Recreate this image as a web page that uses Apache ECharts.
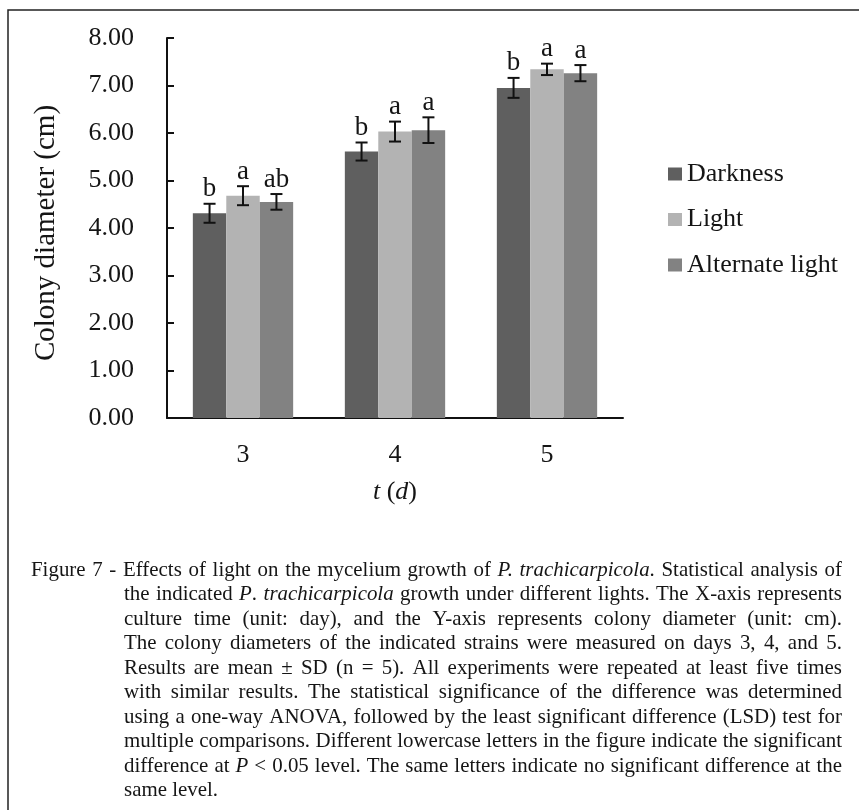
<!DOCTYPE html>
<html><head><meta charset="utf-8">
<script src="https://cdn.jsdelivr.net/npm/echarts@6/dist/echarts.min.js"></script>
<style>html,body{margin:0;padding:0;background:#fff}#c{width:859px;height:810px}</style>
</head><body><div id="c"></div>
<script>
// ---------- data ----------
const categories = ['3', '4', '5'];
const seriesNames = ['Darkness', 'Light', 'Alternate light'];
const darkness = [4.31, 5.61, 6.95];
const light = [4.68, 6.03, 7.34];
const alternate = [4.55, 6.06, 7.26];
const darknessSD = [0.20, 0.19, 0.21];
const lightSD = [0.20, 0.21, 0.12];
const alternateSD = [0.165, 0.27, 0.17];
const darknessSig = ['b', 'b', 'b'];
const lightSig = ['a', 'a', 'a'];
const alternateSig = ['ab', 'a', 'a'];
const yMin = 0, yMax = 8, yStep = 1;
const colors = ['#5f5f5f', '#b3b3b3', '#828282'];
const captionLines = [
  'Figure 7 - Effects of light on the mycelium growth of *P. trachicarpicola*. Statistical analysis of',
  'the indicated *P*. *trachicarpicola* growth under different lights. The X-axis represents',
  'culture time (unit: day), and the Y-axis represents colony diameter (unit: cm).',
  'The colony diameters of the indicated strains were measured on days 3, 4, and 5.',
  'Results are mean \u00b1 SD (n = 5). All experiments were repeated at least five times',
  'with similar results. The statistical significance of the difference was determined',
  'using a one-way ANOVA, followed by the least significant difference (LSD) test for',
  'multiple comparisons. Different lowercase letters in the figure indicate the significant',
  'difference at *P* < 0.05 level. The same letters indicate no significant difference at the',
  'same level.'
];

// ---------- styling ----------
const FONT = 'Liberation Serif';
const TXT = '#151515';
const gapRatio = 0.34;

const values = [darkness, light, alternate];
const sds = [darknessSD, lightSD, alternateSD];
const sigs = [darknessSig, lightSig, alternateSig];

function errSeries(k) {
  return {
    type: 'custom',
    z: 10,
    silent: true,
    data: values[k].map((v, i) => [i, v, sds[k][i]]),
    encode: { x: 0, y: 1 },
    renderItem(params, api) {
      const i = api.value(0), v = api.value(1), sd = api.value(2);
      const band = api.size([1, 0])[0];
      const barW = band * (1 - gapRatio) / 3;
      const cx = api.coord([i, v])[0] + (k - 1) * barW;
      const yT = api.coord([i, v + sd])[1];
      const yB = api.coord([i, v - sd])[1];
      const cap = 6;
      const ls = { stroke: '#111', lineWidth: 2 };
      return {
        type: 'group',
        children: [
          { type: 'line', shape: { x1: cx, y1: yT, x2: cx, y2: yB }, style: ls },
          { type: 'line', shape: { x1: cx - cap, y1: yT, x2: cx + cap, y2: yT }, style: ls },
          { type: 'line', shape: { x1: cx - cap, y1: yB, x2: cx + cap, y2: yB }, style: ls },
          { type: 'text', style: { text: sigs[k][params.dataIndex], x: cx, y: yT - 1,
              align: 'center', verticalAlign: 'bottom', fontSize: 27, fontFamily: FONT, fill: TXT } }
        ]
      };
    }
  };
}

// caption with justified lines
const capFont = 22, capScale = 0.95, capLeft0 = 31, capLeft = 124, capRight = 842, capTop = 570, capLine = 24.5;
const ctx = document.createElement('canvas').getContext('2d');
function measure(t, it) { ctx.font = (it ? 'italic ' : '') + capFont + 'px ' + FONT; return ctx.measureText(t).width; }
const capEls = [];
let italic = false;
captionLines.forEach((line, li) => {
  const toks = line.split(' ').map(tok => {
    const segs = []; let cur = '';
    for (const ch of tok) {
      if (ch === '*') { if (cur) segs.push({ t: cur, it: italic }); cur = ''; italic = !italic; }
      else cur += ch;
    }
    if (cur) segs.push({ t: cur, it: italic });
    return { segs, w: segs.reduce((a, s) => a + measure(s.t, s.it), 0) };
  });
  const x0 = li === 0 ? capLeft0 : capLeft;
  const last = li === captionLines.length - 1;
  const spaceW = measure(' ', false);
  const natTotal = toks.reduce((a, t) => a + t.w, 0);
  let s = capScale;
  const minNeeded = (natTotal + (toks.length - 1) * spaceW * 0.75) * s;
  if (!last && minNeeded > capRight - x0) s = s * (capRight - x0) / minNeeded;
  const total = natTotal * s;
  const gap = last ? spaceW * s : (capRight - x0 - total) / (toks.length - 1);
  let x = x0;
  const y = capTop + li * capLine;
  toks.forEach(t => {
    capEls.push({
      type: 'text', x: x, y: y, scaleX: s, silent: true,
      style: {
        text: t.segs.map(sg => (sg.it ? '{i|' : '{n|') + sg.t + '}').join(''),
        x: 0, y: 0, verticalAlign: 'middle', fontSize: capFont, fontFamily: FONT, fill: TXT,
        rich: {
          i: { fontStyle: 'italic', fontSize: capFont, fontFamily: FONT, fill: TXT },
          n: { fontSize: capFont, fontFamily: FONT, fill: TXT }
        }
      }
    });
    x += t.w * s + gap;
  });
});

const chart = echarts.init(document.getElementById('c'), null, { renderer: 'canvas' });
chart.setOption({
  animation: false,
  backgroundColor: '#fff',
  grid: { left: 167, right: 236, top: 38, bottom: 392, containLabel: false },
  legend: {
    orient: 'vertical', left: 663, top: 156, itemWidth: 14, itemHeight: 13, itemGap: 19.5,
    icon: 'rect', data: seriesNames,
    textStyle: { fontSize: 26, fontFamily: FONT, color: TXT }
  },
  xAxis: {
    type: 'category', data: categories,
    axisLine: { lineStyle: { color: '#111', width: 2 } },
    axisTick: { inside: true, length: 7, lineStyle: { color: '#111', width: 2 } },
    axisLabel: { fontSize: 26, fontFamily: FONT, color: TXT, margin: 24 },
    name: '{i|t} ({i|d})', nameLocation: 'middle', nameGap: 61,
    nameTextStyle: { fontSize: 26, fontFamily: FONT, color: TXT,
      rich: { i: { fontStyle: 'italic', fontSize: 26, fontFamily: FONT, color: TXT } } }
  },
  yAxis: {
    type: 'value', min: yMin, max: yMax, interval: yStep,
    splitLine: { show: false },
    axisLine: { show: true, lineStyle: { color: '#111', width: 2 } },
    axisTick: { show: true, inside: true, length: 7, lineStyle: { color: '#111', width: 2 } },
    axisLabel: { fontSize: 26, fontFamily: FONT, color: TXT, margin: 33, formatter: v => v.toFixed(2) },
    name: 'Colony diameter (cm)', nameLocation: 'middle', nameGap: 106, nameRotate: 90,
    nameTextStyle: { fontSize: 29, fontFamily: FONT, color: TXT, padding: [0, 10, 0, 0] }
  },
  series: [
    ...seriesNames.map((n, k) => ({
      type: 'bar', name: n, data: values[k], barGap: '0%', barCategoryGap: (gapRatio * 100) + '%',
      itemStyle: { color: colors[k] }, silent: true
    })),
    errSeries(0), errSeries(1), errSeries(2)
  ],
  graphic: [
    { type: 'rect', silent: true, z: -1, shape: { x: 8, y: 10, width: 1000, height: 1000 },
      style: { fill: 'none', stroke: '#222', lineWidth: 1.5 } },
    ...capEls
  ]
});
</script>
</body></html>
